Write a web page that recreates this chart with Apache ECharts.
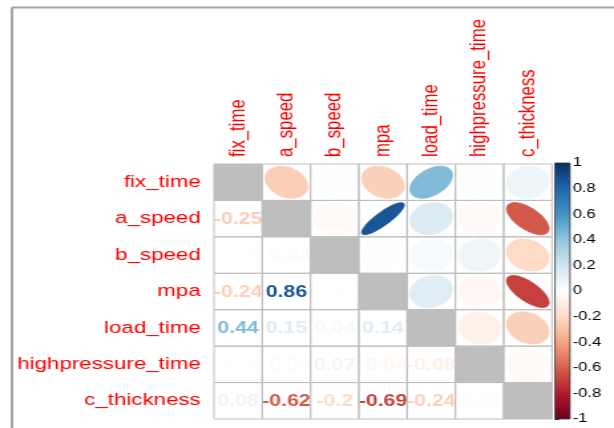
<!DOCTYPE html>
<html>
<head>
<meta charset="utf-8">
<script src="https://cdn.jsdelivr.net/npm/echarts@6/dist/echarts.min.js"></script>
<style>
html,body{margin:0;padding:0;background:#fff;overflow:hidden;}
#c{width:462px;height:428px;transform:scaleX(1.329);transform-origin:0 0;}
</style>
</head>
<body>
<div id="c"></div>
<script>
// Variables (categories)
const variables = ['fix_time','a_speed','b_speed','mpa','load_time','highpressure_time','c_thickness'];
// Correlation matrix rows
const fix_time          = [ 1.00, -0.25,  0.01, -0.24,  0.44,  0.01,  0.08];
const a_speed           = [-0.25,  1.00, -0.03,  0.86,  0.15, -0.03, -0.62];
const b_speed           = [ 0.01, -0.03,  1.00,  0.01,  0.04,  0.07, -0.20];
const mpa               = [-0.24,  0.86,  0.01,  1.00,  0.14, -0.04, -0.69];
const load_time         = [ 0.44,  0.15,  0.04,  0.14,  1.00, -0.08, -0.24];
const highpressure_time = [ 0.01, -0.03,  0.07, -0.04, -0.08,  1.00, -0.03];
const c_thickness       = [ 0.08, -0.62, -0.20, -0.69, -0.24, -0.03,  1.00];
const rows = [fix_time, a_speed, b_speed, mpa, load_time, highpressure_time, c_thickness];
// Colour bar tick labels
const colorbarTicks = ['-1','-0.8','-0.6','-0.4','-0.2','0','0.2','0.4','0.6','0.8','1'];

// corrplot RdBu palette, from -1 to 1
const palette = ['#67001F','#B2182B','#D6604D','#F4A582','#FDDBC7','#FFFFFF','#D1E5F0','#92C5DE','#4393C3','#2166AC','#053061'];
function hex2rgb(h){return [parseInt(h.substr(1,2),16),parseInt(h.substr(3,2),16),parseInt(h.substr(5,2),16)];}
function colorOf(v){
  const t = (Math.max(-1, Math.min(1, v)) + 1) / 2 * (palette.length - 1);
  const i = Math.min(palette.length - 2, Math.floor(t));
  const f = t - i;
  const a = hex2rgb(palette[i]), b = hex2rgb(palette[i+1]);
  const c = a.map((x,k)=>Math.round(x + (b[k]-x)*f));
  return 'rgb(' + c.join(',') + ')';
}

const cells = [];
rows.forEach((row, r) => row.forEach((v, c) => cells.push([c, r, v])));

const chart = echarts.init(document.getElementById('c'));
const FONT = '"Liberation Sans", Arial, sans-serif';

chart.setOption({
  animation: false,
  backgroundColor: '#fff',
  grid: [
    {left: 161, width: 254.3, top: 164, height: 255},
    {left: 417.6, width: 11.3, top: 163, height: 256}
  ],
  xAxis: [
    {type: 'category', data: variables, position: 'top', gridIndex: 0,
     axisLine: {show: false}, axisTick: {show: false}, splitLine: {show: false},
     axisLabel: {rotate: -90, color: '#FF0000', fontSize: 16.8, fontFamily: FONT, margin: 7, interval: 0}},
    {type: 'value', gridIndex: 1, min: 0, max: 1, show: false}
  ],
  yAxis: [
    {type: 'category', data: variables, inverse: true, gridIndex: 0,
     axisLine: {show: false}, axisTick: {show: false}, splitLine: {show: false},
     axisLabel: {color: '#FF0000', fontSize: 16.8, fontFamily: FONT, margin: 10, interval: 0}},
    {type: 'value', gridIndex: 1, min: -1, max: 1, interval: 0.2, position: 'right',
     axisLine: {show: false}, splitLine: {show: false},
     axisTick: {show: true, length: 3, lineStyle: {color: '#000', width: 1}},
     axisLabel: {color: '#000', fontSize: 12.5, fontFamily: FONT, margin: 2,
       formatter: v => String(Math.round(v * 10) / 10)}}
  ],
  graphic: [
    {type: 'line', shape: {x1: 9, y1: 7.5, x2: 470, y2: 7.5}, style: {stroke: '#A3A3A3', lineWidth: 2}},
    {type: 'line', shape: {x1: 9, y1: 7.5, x2: 9, y2: 430}, style: {stroke: '#A3A3A3', lineWidth: 2}}
  ],
  series: [
    {
      type: 'custom', xAxisIndex: 0, yAxisIndex: 0, data: cells,
      renderItem: function (params, api) {
        const c = api.value(0), r = api.value(1), v = api.value(2);
        const p = api.coord([c, r]);
        const s = api.size([1, 1]);
        const w = s[0], h = s[1];
        const rectShape = {x: p[0] - w / 2, y: p[1] - h / 2, width: w, height: h};
        const children = [];
        if (c === r) {
          children.push({type: 'rect', shape: rectShape, style: {fill: '#BEBEBE'}});
        } else if (c > r) {
          const d = Math.acos(v);
          const pts = [];
          for (let k = 0; k < 99; k++) {
            const t = 2 * Math.PI * k / 98;
            pts.push([p[0] + 0.88 * w * Math.cos(t + d / 2) / 2, p[1] - 0.88 * h * Math.cos(t - d / 2) / 2]);
          }
          children.push({type: 'polygon', shape: {points: pts}, style: {fill: colorOf(v), stroke: colorOf(v), lineWidth: 0.8}});
        } else {
          children.push({type: 'text', x: p[0], y: p[1] + 1,
            style: {text: String(v), fill: colorOf(v), font: 'bold 16px ' + FONT, align: 'center', verticalAlign: 'middle'}});
        }
        children.push({type: 'rect', shape: rectShape, style: {fill: 'none', stroke: '#BEBEBE', lineWidth: 1}});
        return {type: 'group', children: children};
      }
    },
    {
      type: 'custom', xAxisIndex: 1, yAxisIndex: 1, data: [[0, 1]],
      renderItem: function (params, api) {
        const a = api.coord([0, 1]);
        const b = api.coord([1, -1]);
        const stops = palette.slice().reverse().map((col, i) => ({offset: i / (palette.length - 1), color: col}));
        return {type: 'rect', shape: {x: a[0], y: a[1], width: b[0] - a[0], height: b[1] - a[1]},
          style: {fill: new echarts.graphic.LinearGradient(0, 0, 0, 1, stops), stroke: '#333', lineWidth: 0.8}};
      }
    }
  ]
});
</script>
</body>
</html>
